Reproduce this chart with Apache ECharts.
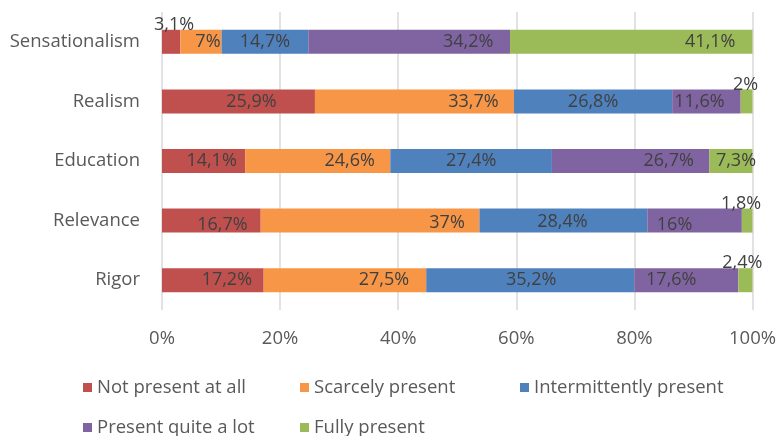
<!DOCTYPE html>
<html>
<head>
<meta charset="utf-8">
<script src="https://cdn.jsdelivr.net/npm/echarts@6/dist/echarts.min.js"></script>
<style>html,body{margin:0;padding:0;background:#fff}#c{width:779px;height:436px}</style>
</head>
<body>
<div id="c"></div>
<script>
// ---- data ----
const categories = ['Sensationalism', 'Realism', 'Education', 'Relevance', 'Rigor'];
const seriesNames = ['Not present at all', 'Scarcely present', 'Intermittently present', 'Present quite a lot', 'Fully present'];
const notPresent      = [3.1, 25.9, 14.1, 16.7, 17.2];
const scarcely        = [7, 33.7, 24.6, 37, 27.5];
const intermittently  = [14.7, 26.8, 27.4, 28.4, 35.2];
const quiteALot       = [34.2, 11.6, 26.7, 16, 17.6];
const fully           = [41.1, 2, 7.3, 1.8, 2.4];
const xTicks = [0, 20, 40, 60, 80, 100];

// ---- style / layout ----
const colors = ['#C0504D', '#F79646', '#4F81BD', '#8064A2', '#9BBB59'];
const FONT = '"Open Sans", sans-serif';
const TEXT = '#595959';
// label nudges in pixels [dx, dy] per series, per category (Excel-style label placement)
const labelNudge = [
  [[3,0],[13,0],[8,0],[11,4],[14,0]],
  [[7,0],[59,0],[32,0],[77,2],[39,0]],
  [[0,0],[0,0],[0,0],[-1,1],[1,0]],
  [[59,0],[-7,0],[38,0],[-20,4],[-15,0]],
  [[79,0],[-1,0],[5,0],[-6,0],[-3,0]]
];

const raw = [notPresent, scarcely, intermittently, quiteALot, fully];
const totals = categories.map((_, i) => raw.reduce((s, arr) => s + arr[i], 0));
const fmt = v => String(v).replace('.', ',') + '%';

const series = raw.map((arr, si) => ({
  name: seriesNames[si],
  type: 'bar',
  stack: 'all',
  barWidth: 24,
  itemStyle: { color: colors[si] },
  data: arr.map((v, ci) => {
    const small = v < 5;
    const n = labelNudge[si][ci];
    return {
      value: v / totals[ci] * 100,
      label: {
        show: true,
        position: small ? 'top' : 'inside',
        distance: small ? -4 : 5,
        offset: n,
        formatter: () => fmt(v),
        color: '#404040',
        fontSize: 18,
        fontFamily: FONT
      }
    };
  })
}));

const legendLeft = [83, 300, 520, 83, 300];
const legendTop = [378, 378, 378, 418, 418];
const legends = seriesNames.map((nm, i) => ({
  data: [nm],
  left: legendLeft[i],
  top: legendTop[i],
  padding: 0,
  icon: 'rect',
  itemWidth: 9,
  itemHeight: 9,
  selectedMode: false,
  textStyle: { color: TEXT, fontSize: 18.5, fontFamily: FONT }
}));

const chart = echarts.init(document.getElementById('c'), null, { renderer: 'canvas' });
chart.setOption({
  animation: false,
  backgroundColor: '#fff',
  legend: legends,
  grid: { left: 162, right: 26, top: 12, bottom: 126, containLabel: false },
  xAxis: {
    type: 'value',
    min: xTicks[0],
    max: xTicks[xTicks.length - 1],
    interval: 20,
    axisLine: { show: false },
    axisTick: { show: false },
    splitLine: { show: true, lineStyle: { color: '#d9d9d9', width: 1.5 } },
    axisLabel: { formatter: '{value}%', color: TEXT, fontSize: 18.5, fontFamily: FONT, margin: 19 }
  },
  yAxis: {
    type: 'category',
    data: categories,
    inverse: true,
    axisLine: { show: false },
    axisTick: { show: false },
    axisLabel: { color: TEXT, fontSize: 18.5, fontFamily: FONT, margin: 22 }
  },
  series: series
});
</script>
</body>
</html>
